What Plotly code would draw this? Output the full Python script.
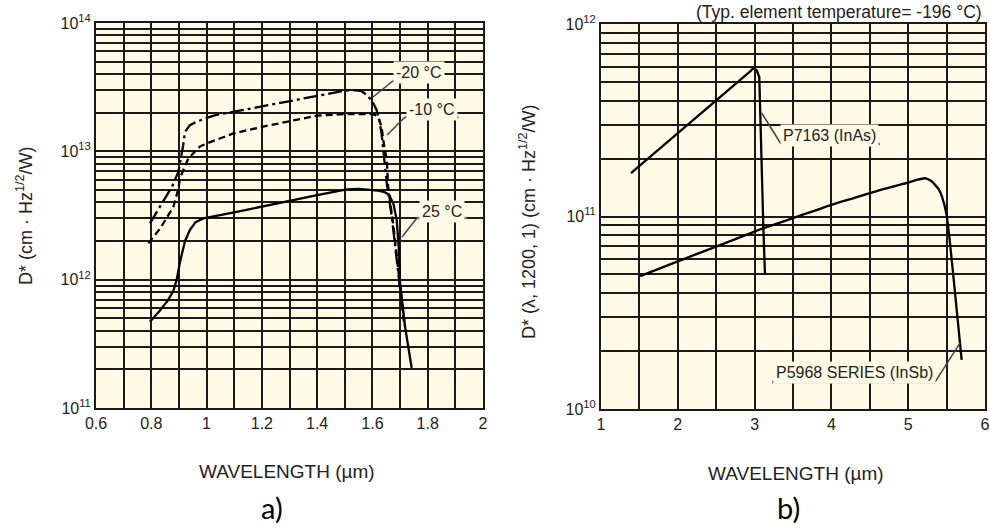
import math
import plotly.graph_objects as go

# ---------------- data ----------------
# a) detector at three temperatures
wl_m20 = [0.795, 0.846, 0.875, 0.898, 0.904, 0.915, 0.922, 0.94, 0.964, 1.0, 1.036, 1.2, 1.4,
          1.5, 1.53, 1.56, 1.58, 1.6, 1.615, 1.625, 1.633, 1.639, 1.652, 1.67, 1.682, 1.70, 1.718]
d_m20 = [2.75e12, 4.2e12, 5.3e12, 6.9e12, 8.0e12, 1.1e13, 1.42e13, 1.6e13, 1.7e13, 1.82e13, 1.92e13,
         2.24e13, 2.71e13, 2.97e13, 3.0e13, 2.95e13, 2.75e13, 2.45e13, 2.1e13, 1.75e13, 1.38e13, 1.02e13,
         5.6e12, 3.1e12, 1.8e12, 8.5e11, 4.3e11]

wl_m10 = [0.789, 0.832, 0.88, 0.898, 0.904, 0.934, 0.976, 1.0, 1.097, 1.2, 1.4, 1.5, 1.6, 1.615,
          1.625, 1.633, 1.639, 1.652, 1.657, 1.676, 1.69, 1.70, 1.715]
d_m10 = [1.92e12, 2.5e12, 3.7e12, 5.1e12, 6.2e12, 8.8e12, 1.09e13, 1.15e13, 1.38e13, 1.55e13, 1.9e13,
         1.95e13, 1.95e13, 1.9e13, 1.75e13, 1.55e13, 1.23e13, 8.5e12, 5.25e12, 2.6e12, 1.4e12, 8.5e11, 4.5e11]

wl_25 = [0.795, 0.83, 0.86, 0.88, 0.892, 0.904, 0.922, 0.94, 0.96, 0.988, 1.1, 1.2, 1.3, 1.4, 1.507,
         1.55, 1.591, 1.62, 1.645, 1.66, 1.676, 1.688, 1.695, 1.70, 1.718, 1.742]
d_25 = [4.7e11, 5.7e11, 6.9e11, 8.2e11, 1.0e12, 1.38e12, 2.0e12, 2.45e12, 2.8e12, 3.0e12, 3.35e12,
        3.72e12, 4.1e12, 4.55e12, 5.06e12, 5.1e12, 5.0e12, 4.95e12, 4.8e12, 4.6e12, 3.9e12, 2.9e12,
        1.8e12, 9.5e11, 4.3e11, 2.05e11]

# b) InAs and InSb detectors
wl_inas = [1.39, 2.0, 2.5, 2.85, 2.95, 2.983, 3.027, 3.061, 3.07, 3.09, 3.113, 3.135]
d_inas = [1.68e11, 2.7e11, 4.0e11, 5.27e11, 5.7e11, 5.9e11, 5.75e11, 5.3e11, 3.7e11, 2.04e11, 9.0e10, 5.0e10]

wl_insb = [1.51, 2.0, 2.5, 3.0, 3.113, 3.5, 4.0, 4.3, 4.6, 4.8, 5.0, 5.11, 5.22, 5.3, 5.35, 5.40, 5.44,
           5.50, 5.544, 5.61, 5.696]
d_insb = [4.9e10, 5.85e10, 6.98e10, 8.35e10, 8.7e10, 9.8e10, 1.15e11, 1.25e11, 1.36e11, 1.43e11, 1.5e11,
          1.55e11, 1.58e11, 1.53e11, 1.46e11, 1.38e11, 1.27e11, 1.02e11, 7.3e10, 4.0e10, 1.8e10]

# tick labels
xa_ticks = [0.6, 0.8, 1, 1.2, 1.4, 1.6, 1.8, 2]
xa_labels = ["0.6", "0.8", "1", "1.2", "1.4", "1.6", "1.8", "2"]
xb_ticks = [1, 2, 3, 4, 5, 6]
xb_labels = ["1", "2", "3", "4", "5", "6"]
ya_decades = [11, 12, 13, 14]
yb_decades = [10, 11, 12]

# curve labels: (text, label x, label D*, underline x0, x1, underline D*, curve point x, curve point D*)
labels_a = [
    ("-20 °C", 1.767, 4.1e13, 1.675, 1.855, 3.55e13, 1.602, 2.65e13),
    ("-10 °C", 1.816, 2.1e13, 1.718, 1.912, 1.85e13, 1.653, 1.34e13),
    ("25 °C", 1.852, 3.37e12, 1.761, 1.942, 3.02e12, 1.707, 2.15e12),
]
labels_b = [
    ("P7163 (InAs)", 3.98, 2.62e11, 3.344, 4.633, 2.38e11, 3.092, 3.45e11),
    ("P5968 SERIES (InSb)", 4.307, 1.556e10, 3.227, 5.349, 1.38e10, 5.674, 2.2e10),
]

# ---------------- styling ----------------
BG = "#FFFBE6"
INK = "#1a1a1a"
TXT = "#222222"
FONT = "Liberation Sans, Arial, sans-serif"


def frac(v, decades):
    lo, hi = decades[0], decades[-1]
    return (math.log10(v) - lo) / (hi - lo)


fig = go.Figure()
line_w = 2.3
fig.add_trace(go.Scatter(x=wl_m20, y=d_m20, mode="lines", xaxis="x", yaxis="y",
                         line=dict(color="black", width=line_w, dash="14px,4px,3px,4px"), name="-20 °C"))
fig.add_trace(go.Scatter(x=wl_m10, y=d_m10, mode="lines", xaxis="x", yaxis="y",
                         line=dict(color="black", width=line_w, dash="7px,4px"), name="-10 °C"))
fig.add_trace(go.Scatter(x=wl_25, y=d_25, mode="lines", xaxis="x", yaxis="y",
                         line=dict(color="black", width=line_w), name="25 °C"))
fig.add_trace(go.Scatter(x=wl_inas, y=d_inas, mode="lines", xaxis="x2", yaxis="y2",
                         line=dict(color="black", width=line_w), name="P7163 (InAs)"))
fig.add_trace(go.Scatter(x=wl_insb, y=d_insb, mode="lines", xaxis="x2", yaxis="y2",
                         line=dict(color="black", width=line_w, shape="spline", smoothing=0.6),
                         name="P5968 SERIES (InSb)"))

W, H = 990, 530
dom_xa = [96 / W, 483 / W]
dom_ya = [1 - 408 / H, 1 - 23 / H]
dom_xb = [601 / W, 985 / W]
dom_yb = [1 - 409 / H, 1 - 24 / H]

ya_vals = [10 ** e for e in ya_decades]
ya_text = ["10<sup>%d</sup>" % e for e in ya_decades]
yb_vals = [10 ** e for e in yb_decades]
yb_text = ["10<sup>%d</sup>" % e for e in yb_decades]

grid = dict(showgrid=True, gridcolor=INK, gridwidth=1.5)
common_x = dict(showline=True, mirror=True, linecolor=INK, linewidth=2, zeroline=False, ticks="",
                automargin=False, tickfont=dict(family=FONT, size=16, color=TXT), **grid)
common_y = dict(type="log", showline=True, mirror=True, linecolor=INK, linewidth=2, zeroline=False,
                ticks="", tickmode="array", automargin=False,
                tickfont=dict(family=FONT, size=16, color=TXT), minor=dict(dtick="D1", **grid), **grid)

fig.update_layout(
    width=W, height=H, margin=dict(l=0, r=0, t=0, b=0, autoexpand=False),
    paper_bgcolor="white", plot_bgcolor=BG, showlegend=False,
    font=dict(family=FONT, color=TXT),
    xaxis=dict(domain=dom_xa, anchor="y", range=[0.6, 2], tickmode="array", tickvals=xa_ticks,
               ticktext=xa_labels, minor=dict(dtick=0.1, tick0=0.6, **grid), **common_x),
    yaxis=dict(domain=dom_ya, anchor="x", range=[ya_decades[0], ya_decades[-1]],
               tickvals=ya_vals, ticktext=ya_text, **common_y),
    xaxis2=dict(domain=dom_xb, anchor="y2", range=[1, 6], tickmode="array", tickvals=xb_ticks,
                ticktext=xb_labels, minor=dict(dtick=0.5, tick0=1, **grid), **common_x),
    yaxis2=dict(domain=dom_yb, anchor="x2", range=[yb_decades[0], yb_decades[-1]],
                tickvals=yb_vals, ticktext=yb_text, **common_y),
)

shapes = []
annotations = []


def add_labels(labels, xref, yref, decades):
    for (txt, lx, ly, ux0, ux1, uy, cx, cy) in labels:
        annotations.append(dict(text=txt, x=lx, y=frac(ly, decades), xref=xref, yref=yref + " domain",
                                showarrow=False, xanchor="center", yanchor="middle",
                                font=dict(family=FONT, size=16, color=TXT), bgcolor=BG, borderpad=2))
        yu = frac(uy, decades)
        shapes.append(dict(type="line", xref=xref, yref=yref + " domain", x0=ux0, x1=ux1, y0=yu, y1=yu,
                           line=dict(color="#7a7a7a", width=2.5)))
        # leader from the end of the underline nearest the curve
        sx = ux0 if abs(cx - ux0) < abs(cx - ux1) else ux1
        shapes.append(dict(type="line", xref=xref, yref=yref + " domain", x0=sx, x1=cx, y0=yu,
                           y1=frac(cy, decades), line=dict(color="#444444", width=1.5)))


add_labels(labels_a, "x", "y", ya_decades)
add_labels(labels_b, "x2", "y2", yb_decades)

# axis titles and captions
annotations += [
    dict(text="WAVELENGTH (µm)", x=(dom_xa[0] + dom_xa[1]) / 2 - 0.003, y=1 - 471 / H, xref="paper",
         yref="paper", showarrow=False, xanchor="center", yanchor="middle",
         font=dict(family=FONT, size=19, color=TXT)),
    dict(text="WAVELENGTH (µm)", x=(dom_xb[0] + dom_xb[1]) / 2 + 0.003, y=1 - 473 / H, xref="paper",
         yref="paper", showarrow=False, xanchor="center", yanchor="middle",
         font=dict(family=FONT, size=19, color=TXT)),
    dict(text="D* (cm · Hz<sup>1/2</sup>/W)", x=24 / W, y=1 - 216 / H, xref="paper", yref="paper",
         showarrow=False, textangle=-90, xanchor="center", yanchor="middle",
         font=dict(family=FONT, size=18, color=TXT)),
    dict(text="D* (λ, 1200, 1) (cm · Hz<sup>1/2</sup>/W)", x=527 / W, y=1 - 222 / H, xref="paper",
         yref="paper", showarrow=False, textangle=-90, xanchor="center", yanchor="middle",
         font=dict(family=FONT, size=18, color=TXT)),
    dict(text="(Typ. element temperature= -196 °C)", x=984 / W, y=1 - 12 / H, xref="paper",
         yref="paper", showarrow=False, xanchor="right", yanchor="middle",
         font=dict(family=FONT, size=17.5, color=TXT)),
    dict(text="a)", x=272 / W, y=1 - 507 / H, xref="paper", yref="paper", showarrow=False,
         xanchor="center", yanchor="middle", font=dict(family="Lato, Open Sans, sans-serif", size=29,
                                                        color="black")),
    dict(text="b)", x=788 / W, y=1 - 507 / H, xref="paper", yref="paper", showarrow=False,
         xanchor="center", yanchor="middle", font=dict(family="Lato, Open Sans, sans-serif", size=29,
                                                        color="black")),
]

fig.update_layout(shapes=shapes, annotations=annotations)
fig.write_html("out.html", config={"displayModeBar": False},
               post_script="document.body.style.margin='0';")
